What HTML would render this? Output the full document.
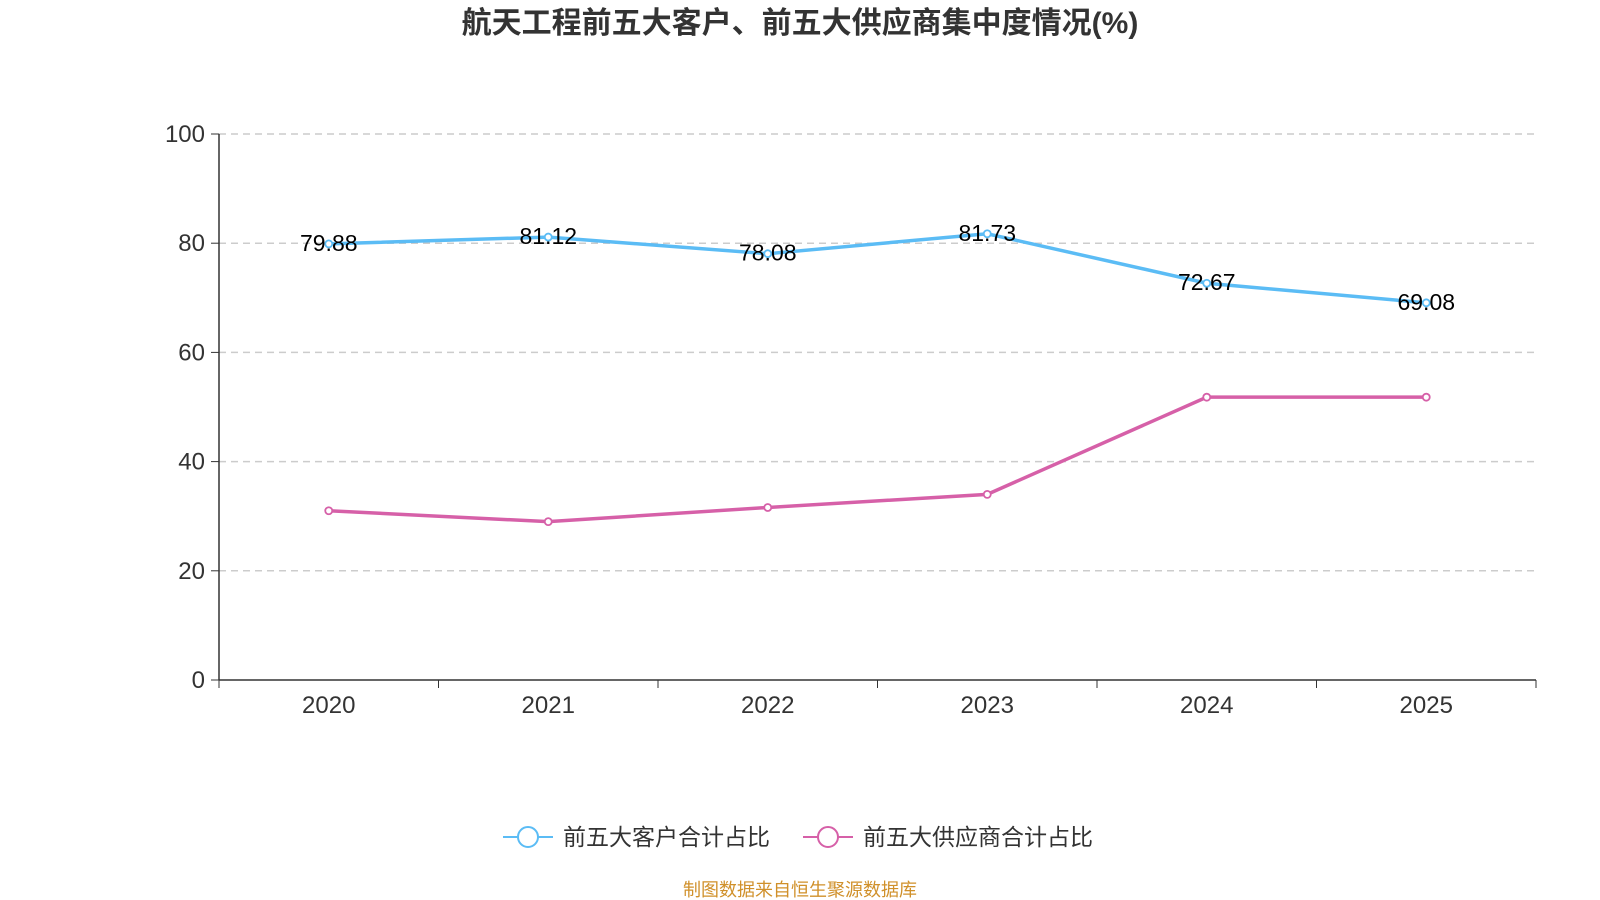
<!DOCTYPE html>
<html><head><meta charset="utf-8"><style>
body{margin:0;background:#fff;}
svg{display:block;font-family:"Liberation Sans","Noto Sans CJK SC",sans-serif;}
</style></head><body>
<svg width="1600" height="900" id="chart">
<text x="800" y="33" text-anchor="middle" font-size="30" font-weight="bold" fill="#333">航天工程前五大客户、前五大供应商集中度情况(%)</text>
<g id="grid"></g><g id="axes"></g><g id="series"></g>
<g>
<g>
<line x1="503" y1="837" x2="553" y2="837" stroke="#5bbcf5" stroke-width="2"/>
<circle cx="528" cy="837" r="10" fill="#fff" stroke="#5bbcf5" stroke-width="2"/>
<text x="563" y="845" font-size="23" fill="#333">前五大客户合计占比</text></g>
<g>
<line x1="803" y1="837" x2="853" y2="837" stroke="#d660a8" stroke-width="2"/>
<circle cx="828" cy="837" r="10" fill="#fff" stroke="#d660a8" stroke-width="2"/>
<text x="863" y="845" font-size="23" fill="#333">前五大供应商合计占比</text></g>
</g>
<text x="800" y="896" text-anchor="middle" font-size="18" fill="#d0902a">制图数据来自恒生聚源数据库</text>
</svg>
<script>
const categories=["2020","2021","2022","2023","2024","2025"];
const customers=[79.88,81.12,78.08,81.73,72.67,69.08];
const suppliers=[31.0,29.0,31.6,34.0,51.8,51.8];
const yTicks=[0,20,40,60,80,100];
const NS="http://www.w3.org/2000/svg";
const x0=219,x1=1536,y0=680,y100=134;
const band=(x1-x0)/categories.length;
const xs=i=>x0+band*(i+0.5);
const ys=v=>y0-(v/100)*(y0-y100);
function mk(t,a,p){const e=document.createElementNS(NS,t);for(const k in a)e.setAttribute(k,a[k]);p.appendChild(e);return e;}
const grid=document.getElementById('grid'),axes=document.getElementById('axes'),ser=document.getElementById('series');
yTicks.forEach(v=>{
 if(v>0){const l=mk('line',{x1:x0,x2:x1,y1:ys(v),y2:ys(v),stroke:'#ccc','stroke-width':1.5,'stroke-dasharray':'7,5'},grid);
 
 }
 const tk=mk('line',{x1:x0-8,x2:x0,y1:ys(v),y2:ys(v),stroke:'#333'},axes);
 
 
 const t=mk('text',{x:x0-14,y:ys(v)+8,'text-anchor':'end','font-size':24,fill:'#333'},axes);t.textContent=v;
 
 
});
const ya=mk('line',{x1:x0,x2:x0,y1:y100,y2:y0,stroke:'#333','stroke-width':1.5},axes);


const xa=mk('line',{x1:x0,x2:x1,y1:y0,y2:y0,stroke:'#333','stroke-width':1.5},axes);


for(let i=0;i<=categories.length;i++){const tk=mk('line',{x1:x0+band*i,x2:x0+band*i,y1:y0,y2:y0+8,stroke:'#333'},axes);
 
 }
categories.forEach((c,i)=>{const t=mk('text',{x:xs(i),y:y0+33,'text-anchor':'middle','font-size':24,fill:'#333'},axes);t.textContent=c;
 
 });
function series(vals,color,name,labels){
 const p=mk('polyline',{points:vals.map((v,i)=>xs(i)+','+ys(v)).join(' '),fill:'none',stroke:color,'stroke-width':3.5},ser);
 
 
 vals.forEach((v,i)=>{const c=mk('circle',{cx:xs(i),cy:ys(v),r:3.5,fill:'#fff',stroke:color,'stroke-width':1.8},ser);
  
  
  if(labels){const t=mk('text',{x:xs(i),y:ys(v)+7,'text-anchor':'middle','font-size':23,fill:'#000'},ser);t.textContent=v.toFixed(2);
  
  }});
}
series(suppliers,'#d660a8','suppliers',false);
series(customers,'#5bbcf5','customers',true);
</script>
</body></html>
